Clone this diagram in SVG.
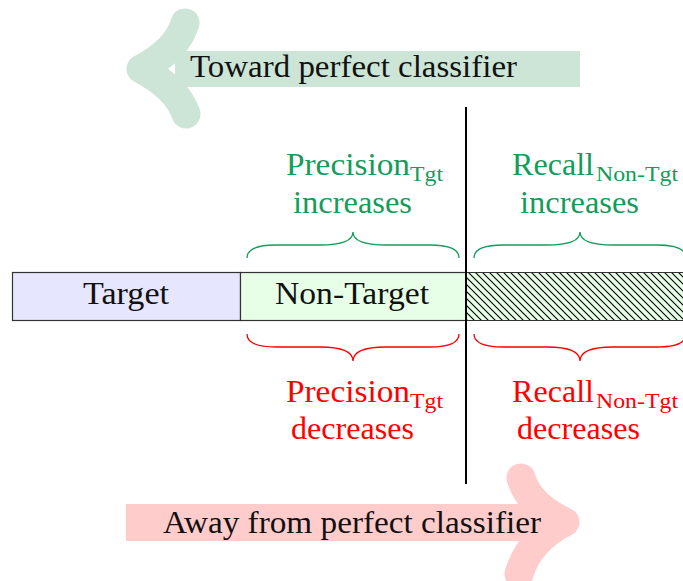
<svg xmlns="http://www.w3.org/2000/svg" width="683" height="581" viewBox="0 0 683 581">
  <defs>
    <style>
      .t { font-family: "Liberation Serif", "Times New Roman", serif; font-size: 31px; fill: #111; }
      .sub { font-size: 21px; }
      .g { fill: #149c5b; }
      .r { fill: #ff0000; }
      .box { stroke: #333; stroke-width: 1.2; }
      .brace { fill: none; stroke-width: 1.3; }
    </style>
    <pattern id="hatch" patternUnits="userSpaceOnUse" width="7" height="7">
      <rect width="7" height="7" fill="#e6ffe6"/>
      <path d="M0,0 L7,7 M-1,6 L1,8 M6,-1 L8,1" stroke="#000" stroke-width="1.1"/>
    </pattern>
  </defs>
  <rect width="683" height="581" fill="#fff"/>

  <!-- direction arrow: toward perfect classifier -->
  <g id="toward">
    <rect x="175" y="51" width="405" height="36" fill="#cce5d6"/>
    <path d="M185,23 Q177,50 141,69 Q177,88 186,114" fill="none" stroke="#cce5d6" stroke-width="29" stroke-linecap="round" stroke-linejoin="round"/>
    <text class="t" x="190" y="77" textLength="327" lengthAdjust="spacingAndGlyphs">Toward perfect classifier</text>
  </g>

  <!-- direction arrow: away from perfect classifier -->
  <g id="away">
    <rect x="126" y="504" width="420" height="37" fill="#ffcccc"/>
    <path d="M521,478 Q529,505 565,522 Q529,540 519,574" fill="none" stroke="#ffcccc" stroke-width="29" stroke-linecap="round" stroke-linejoin="round"/>
    <text class="t" x="163" y="533" textLength="378" lengthAdjust="spacingAndGlyphs">Away from perfect classifier</text>
  </g>

  <!-- class strip -->
  <g id="target">
    <rect class="box" x="12.5" y="272.5" width="228" height="48" fill="#e6e6ff"/>
    <text class="t" x="83" y="304" textLength="86" lengthAdjust="spacingAndGlyphs">Target</text>
  </g>
  <g id="non-target">
    <rect class="box" x="240.5" y="272.5" width="226" height="48" fill="#e6ffe6"/>
    <text class="t" x="275" y="304" textLength="154" lengthAdjust="spacingAndGlyphs">Non-Target</text>
  </g>
  <g id="hatched">
    <rect x="466.5" y="272.5" width="220" height="48" fill="url(#hatch)"/>
    <path class="box" d="M466,272.5 H683 M466,320.5 H683" fill="none"/>
  </g>

  <!-- threshold line -->
  <g id="threshold">
    <line x1="466" y1="107" x2="466" y2="484" stroke="#000" stroke-width="2"/>
  </g>

  <!-- braces and labels above the strip -->
  <g id="precision-up">
    <path class="brace" stroke="#149c5b" d="M247,258 C247,249 257,245 276,245 L320,245 C340,245 353,241 353,232 C353,241 366,245 386,245 L430,245 C449,245 459,249 459,258"/>
    <text class="t g" x="286" y="175" textLength="124" lengthAdjust="spacingAndGlyphs">Precision</text>
    <text class="t g sub" x="410" y="181" textLength="33" lengthAdjust="spacingAndGlyphs">Tgt</text>
    <text class="t g" x="293" y="213" textLength="119" lengthAdjust="spacingAndGlyphs">increases</text>
  </g>
  <g id="recall-up">
    <path class="brace" stroke="#149c5b" d="M474,258 C474,249 484,245 503,245 L547,245 C567,245 580,241 580,232 C580,241 593,245 613,245 L657,245 C676,245 686,249 686,258"/>
    <text class="t g" x="512" y="175" textLength="82" lengthAdjust="spacingAndGlyphs">Recall</text>
    <text class="t g sub" x="596" y="181" textLength="82" lengthAdjust="spacingAndGlyphs">Non-Tgt</text>
    <text class="t g" x="520" y="213" textLength="119" lengthAdjust="spacingAndGlyphs">increases</text>
  </g>

  <!-- braces and labels below the strip -->
  <g id="precision-down">
    <path class="brace" stroke="#ff0000" d="M247,334 C247,343 257,347 276,347 L320,347 C340,347 353,351 353,361 C353,351 366,347 386,347 L430,347 C449,347 459,343 459,334"/>
    <text class="t r" x="286" y="402" textLength="124" lengthAdjust="spacingAndGlyphs">Precision</text>
    <text class="t r sub" x="410" y="408" textLength="33" lengthAdjust="spacingAndGlyphs">Tgt</text>
    <text class="t r" x="291" y="439" textLength="123" lengthAdjust="spacingAndGlyphs">decreases</text>
  </g>
  <g id="recall-down">
    <path class="brace" stroke="#ff0000" d="M474,334 C474,343 484,347 503,347 L547,347 C567,347 580,351 580,361 C580,351 593,347 613,347 L657,347 C676,347 686,343 686,334"/>
    <text class="t r" x="512" y="402" textLength="82" lengthAdjust="spacingAndGlyphs">Recall</text>
    <text class="t r sub" x="596" y="408" textLength="82" lengthAdjust="spacingAndGlyphs">Non-Tgt</text>
    <text class="t r" x="517" y="439" textLength="123" lengthAdjust="spacingAndGlyphs">decreases</text>
  </g>
</svg>
